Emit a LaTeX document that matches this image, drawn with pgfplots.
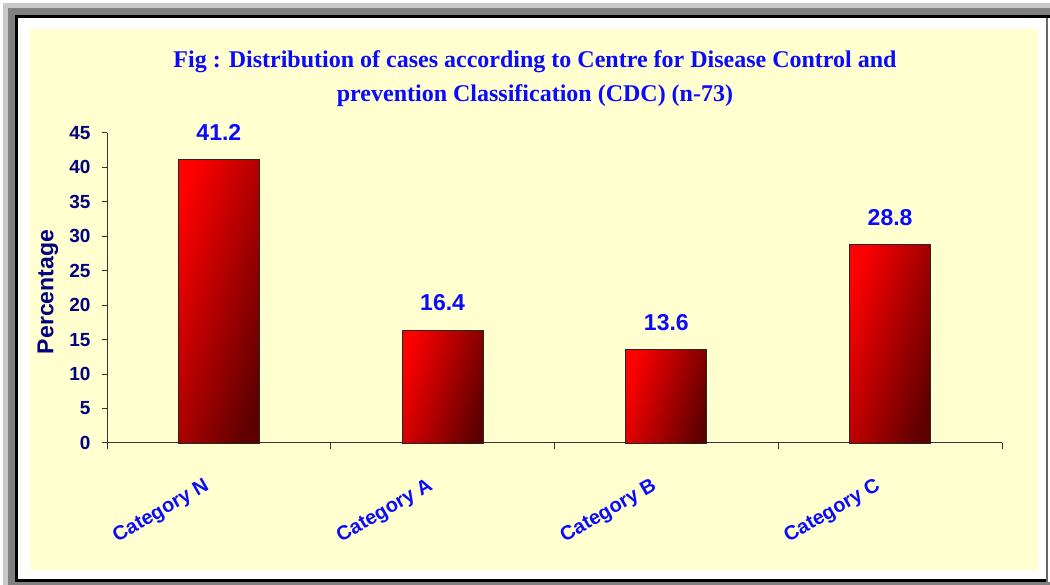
\documentclass[border=0pt]{standalone}
\usepackage{pgfplots}
\pgfplotsset{compat=1.18}
\usepackage{fontspec}
\setmainfont{Liberation Sans}
\newfontfamily\titlefont{Liberation Serif}
\definecolor{bgyellow}{RGB}{255,255,208}
\definecolor{navy}{RGB}{0,0,128}
\definecolor{lblue}{RGB}{10,10,255}
\definecolor{darkred}{RGB}{95,0,0}
\definecolor{framegray}{RGB}{128,128,128}
\definecolor{lightframe}{RGB}{200,200,200}
\pgfplotsset{barstyle/.style={draw=black!85, line width=0.8pt, left color=red, right color=darkred, shading angle=73}}
\begin{document}
\begin{tikzpicture}[x=1pt,y=1pt]
\useasboundingbox (0,0) rectangle (1050,585);
\fill[white] (0,0) rectangle (1050,585);
\fill[lightframe] (3,0) rectangle (8,582);
\fill[lightframe] (3,577) rectangle (1050,582);
\fill[framegray] (8,0) rectangle (15,577);
\fill[framegray] (8,570) rectangle (1050,577);
\fill[black] (15,3) rectangle (18,570);
\fill[black] (15,567) rectangle (1050,570);
\fill[black] (15,3) rectangle (1048,6);
\fill[framegray] (15,0) rectangle (1050,3);
\fill[black!60] (1046,3) rectangle (1048,567);
\fill[bgyellow] (30,15) rectangle (1038,556);
\node[font=\titlefont\bfseries\fontsize{24}{34}\selectfont, text=lblue, align=center] at (535,506)
  {Fig : Distribution of cases according to Centre for Disease Control and\\prevention Classification (CDC) (n-73)};
\begin{axis}[
  at={(107pt,142pt)}, anchor=south west,
  scale only axis, width=895pt, height=310pt,
  xmin=-0.5, xmax=3.5, ymin=0, ymax=45,
  clip=false,
  axis x line*=bottom, axis y line*=left,
  axis line style={draw=black!80, line width=1pt},
  ytick={0,5,...,45},
  xtick={0,1,2,3},
  xticklabels={Category N, Category A, Category B, Category C},
  minor xtick={-0.5,0.5,1.5,2.5,3.5},
  major x tick style={draw=none},
  tick align=outside, major tick length=5pt, minor tick length=6pt,
  tick style={draw=black!80, line width=1pt},
  /pgf/number format/assume math mode=true,
  yticklabel style={font=\bfseries\fontsize{19}{19}\selectfont, text=navy, xshift=-8pt},
  xticklabel style={font=\bfseries\fontsize{20}{20}\selectfont, text=lblue, inner sep=0pt, shift={(-16pt,-29pt)}, rotate=30, anchor=north east},
  ylabel={Percentage},
  every axis y label/.style={at={(axis description cs:-0.066,0.487)}, rotate=90, anchor=center, font=\bfseries\fontsize{23}{23}\selectfont, text=navy},
  ybar, bar width=81pt, bar shift=0pt,
  nodes near coords,
  nodes near coords style={font=\bfseries\fontsize{23}{23}\selectfont, text=lblue, anchor=center, yshift=27pt},
]
\addplot[barstyle] coordinates {(0,41.2)};
\addplot[barstyle] coordinates {(1,16.4)};
\addplot[barstyle] coordinates {(2,13.6)};
\addplot[barstyle] coordinates {(3,28.8)};
\end{axis}
\end{tikzpicture}
\end{document}
